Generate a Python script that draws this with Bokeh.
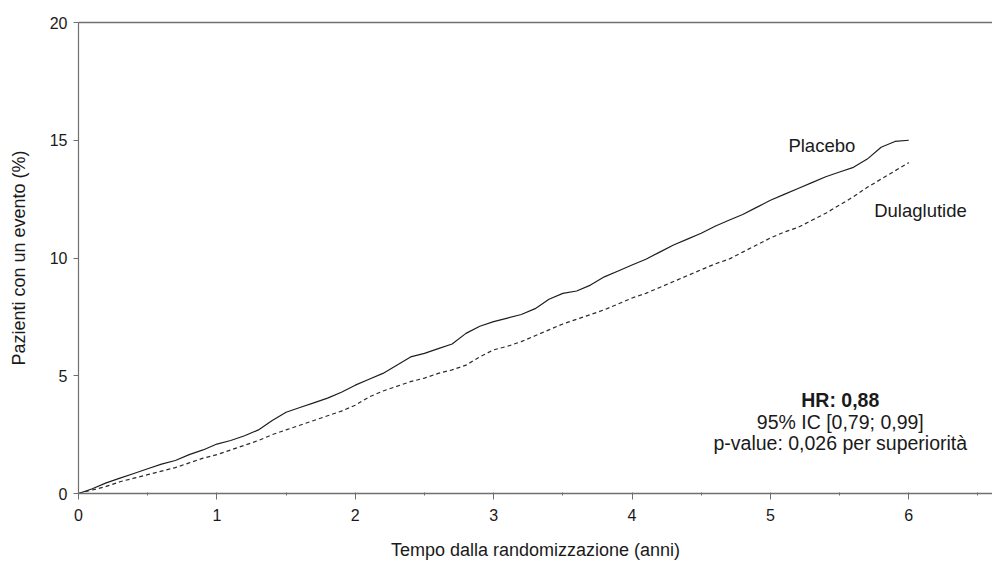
from bokeh.plotting import figure
from bokeh.models import Label, LinearAxis, SingleIntervalTicker, FixedTicker, Range1d
from bokeh.embed import file_html
from bokeh.resources import INLINE

# ---- data ----
time_years = [0.0, 0.1, 0.2, 0.3, 0.4, 0.5, 0.6, 0.7, 0.8, 0.9,
              1.0, 1.1, 1.2, 1.3, 1.4, 1.5, 1.6, 1.7, 1.8, 1.9,
              2.0, 2.1, 2.2, 2.3, 2.4, 2.5, 2.6, 2.7, 2.8, 2.9,
              3.0, 3.1, 3.2, 3.3, 3.4, 3.5, 3.6, 3.7, 3.8, 3.9,
              4.0, 4.1, 4.2, 4.3, 4.4, 4.5, 4.6, 4.7, 4.8, 4.9,
              5.0, 5.1, 5.2, 5.3, 5.4, 5.5, 5.6, 5.7, 5.8, 5.9, 6.0]

placebo_pct = [0.0, 0.2, 0.45, 0.65, 0.85, 1.05, 1.25, 1.4, 1.65, 1.85,
               2.1, 2.25, 2.45, 2.7, 3.1, 3.45, 3.65, 3.85, 4.05, 4.3,
               4.6, 4.85, 5.1, 5.45, 5.8, 5.95, 6.15, 6.35, 6.8, 7.1,
               7.3, 7.45, 7.6, 7.85, 8.25, 8.5, 8.6, 8.85, 9.2, 9.45,
               9.7, 9.95, 10.25, 10.55, 10.8, 11.05, 11.35, 11.6, 11.85, 12.15,
               12.45, 12.7, 12.95, 13.2, 13.45, 13.65, 13.85, 14.2, 14.7, 14.95, 15.0]

dulaglutide_pct = [0.0, 0.15, 0.3, 0.5, 0.65, 0.8, 0.95, 1.1, 1.3, 1.5,
                   1.65, 1.85, 2.05, 2.25, 2.5, 2.7, 2.9, 3.1, 3.3, 3.5,
                   3.75, 4.1, 4.35, 4.55, 4.75, 4.9, 5.1, 5.25, 5.45, 5.8,
                   6.1, 6.25, 6.45, 6.7, 6.95, 7.2, 7.4, 7.6, 7.8, 8.05,
                   8.3, 8.5, 8.75, 9.0, 9.25, 9.5, 9.75, 9.95, 10.25, 10.55,
                   10.85, 11.1, 11.3, 11.6, 11.9, 12.25, 12.6, 13.0, 13.35, 13.7, 14.05]

series_names = ["Placebo", "Dulaglutide"]
y_ticks = [0, 5, 10, 15, 20]
x_label = "Tempo dalla randomizzazione (anni)"
y_label = "Pazienti con un evento (%)"
stats_lines = ["HR: 0,88", "95% IC [0,79; 0,99]", "p-value: 0,026 per superiorità"]

# ---- styling ----
FONT = "Liberation Sans"
TXT = "#1a1a1a"
AX = "#6f6f6f"

p = figure(width=992, height=562,
           x_range=Range1d(0, 6.605), y_range=Range1d(0, 20),
           output_backend="svg", toolbar_location=None,
           min_border_left=78, min_border_right=0,
           min_border_top=22, min_border_bottom=68)
p.outline_line_color = None
p.grid.visible = False
p.background_fill_color = "white"
p.border_fill_color = "white"

p.line(time_years, placebo_pct, line_color="#1e1e1e", line_width=1.2)
p.line(time_years, dulaglutide_pct, line_color="#2a2a2a",
       line_width=1.2, line_dash="4 3")

# axes
xa = p.xaxis[0]
xa.ticker = SingleIntervalTicker(interval=1, num_minor_ticks=2)
xa.axis_line_color = AX
xa.axis_line_width = 1.6
xa.major_tick_line_color = AX
xa.major_tick_in = 0
xa.major_tick_out = 6
xa.minor_tick_line_color = AX
xa.minor_tick_in = 1
xa.minor_tick_out = 2
xa.major_label_standoff = 9
xa.major_label_text_font = FONT
xa.major_label_text_font_size = "16px"
xa.major_label_text_color = TXT
xa.axis_label = x_label
xa.axis_label_text_font = FONT
xa.axis_label_text_font_size = "18px"
xa.axis_label_text_font_style = "normal"
xa.axis_label_text_color = TXT
xa.axis_label_standoff = 16

ya = p.yaxis[0]
ya.ticker = FixedTicker(ticks=y_ticks)
ya.axis_line_color = AX
ya.axis_line_width = 1.2
ya.major_tick_line_color = AX
ya.major_tick_in = 0
ya.major_tick_out = 5
ya.minor_tick_line_color = None
ya.major_label_standoff = 6
ya.major_label_text_font = FONT
ya.major_label_text_font_size = "16px"
ya.major_label_text_color = TXT
ya.axis_label = y_label
ya.axis_label_text_font = FONT
ya.axis_label_text_font_size = "18px"
ya.axis_label_text_font_style = "normal"
ya.axis_label_text_color = TXT
ya.axis_label_standoff = 18

top = LinearAxis(ticker=FixedTicker(ticks=[]), axis_line_color=AX, axis_line_width=1.4,
                 major_tick_line_color=None, minor_tick_line_color=None,
                 major_label_text_font_size="0px")
p.add_layout(top, "above")

# curve labels
p.add_layout(Label(x=5.13, y=14.79, text=series_names[0], text_font=FONT,
                   text_font_size="18.5px", text_color=TXT,
                   text_align="left", text_baseline="middle"))
p.add_layout(Label(x=5.75, y=12.0, text=series_names[1], text_font=FONT,
                   text_font_size="18.5px", text_color=TXT,
                   text_align="left", text_baseline="middle"))

# stats block
for i, (yy, txt) in enumerate(zip([3.98, 3.05, 2.16], stats_lines)):
    p.add_layout(Label(x=5.505, y=yy, text=txt, text_font=FONT,
                       text_font_size="19.5px", text_color=TXT,
                       text_font_style="bold" if i == 0 else "normal",
                       text_align="center", text_baseline="middle"))

open("out.html", "w").write(file_html(p, INLINE))
